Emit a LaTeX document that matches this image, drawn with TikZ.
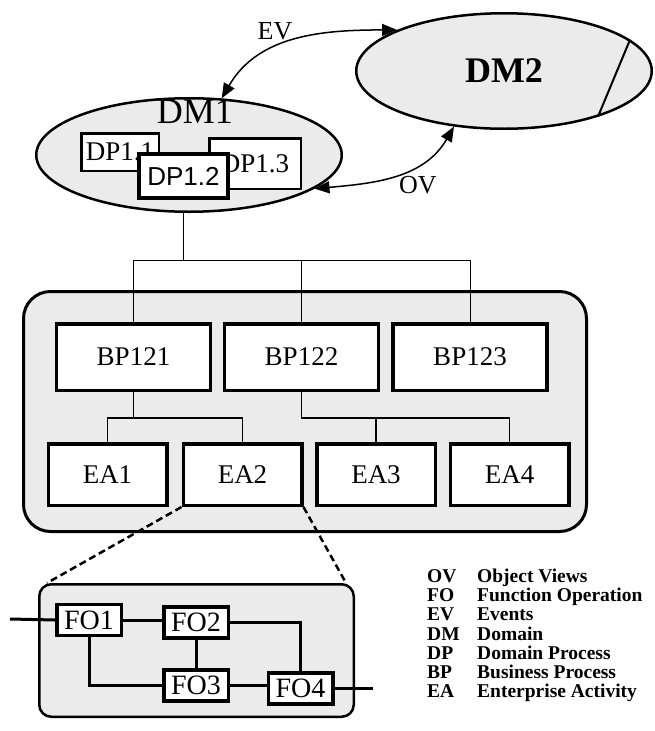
\documentclass[tikz,border=0pt]{standalone}
\usepackage{fontspec}
\setmainfont{Liberation Serif}
\newfontfamily\dpfont{Liberation Sans}
\usetikzlibrary{positioning,arrows.meta,shapes.geometric}

\begin{document}
\begin{tikzpicture}[x=1pt, y=1pt,
  dmzone/.style={ellipse, draw, line width=2.5pt, fill=black!8, inner sep=0pt},
  dpbox/.style={draw, line width=2.5pt, fill=white, inner sep=0pt, font=\fontsize{27}{30}\selectfont},
  bpbox/.style={draw, line width=3.5pt, fill=white, minimum width=154pt, minimum height=66.5pt, font=\fontsize{27}{30}\selectfont},
  eabox/.style={draw, line width=3.5pt, fill=white, minimum width=118.5pt, minimum height=61.5pt, font=\fontsize{27}{30}\selectfont},
  fobox/.style={draw, line width=3.5pt, fill=white, minimum width=64.5pt, minimum height=31pt, inner sep=0pt, font=\fontsize{28}{30}\selectfont},
  area/.style={draw, line width=3pt, fill=black!8},
  flow/.style={line width=1.5pt},
  bus/.style={line width=1pt},
  link/.style={line width=1.6pt},
  wire/.style={line width=3pt},
  zoomline/.style={line width=2.5pt, dash pattern=on 7pt off 4pt},
  >={Triangle[length=15pt,width=12pt]}]
\useasboundingbox (0,0) rectangle (655,-731);

\node[dmzone, minimum width=305.5pt, minimum height=113.5pt] (dmone) at (189,-155) {};
\node[dmzone, minimum width=295.5pt, minimum height=115.5pt, font=\bfseries\fontsize{36}{40}\selectfont] (dmtwo) at (504,-71) {DM2};
\draw[line width=2pt] (dmtwo.14) -- (dmtwo.-26);
\node[inner sep=0pt, font=\fontsize{36}{40}\selectfont] (dmonetext) at (195,-112) {DM1};
\node[dpbox, minimum width=77.5pt, minimum height=37.5pt] (dpone) at (120,-152) {DP1.1};
\node[dpbox, minimum width=91.5pt, minimum height=50.5pt] (dpthree) at (255,-163.5) {DP1.3};
\node[dpbox, line width=4pt, minimum width=89pt, minimum height=44pt, font=\dpfont\fontsize{26}{28}\selectfont] (dptwo) at (183.5,-176) {DP1.2};

\draw[flow, <->] (dmone.60) to[out=60, in=180] (dmtwo.159);
\node[inner sep=0pt, font=\fontsize{26}{28}\selectfont] (evtext) at (275,-31) {EV};
\draw[flow, <->] (dmone.-15) to[out=5, in=-120] (dmtwo.-132);
\node[inner sep=0pt, font=\fontsize{26}{28}\selectfont] (ovtext) at (418,-185) {OV};

\node[area, rounded corners=27pt, minimum width=563pt, minimum height=240pt] (bparea) at (305,-411.5) {};
\node[bpbox] (bpone) at (133.5,-357) {BP121};
\node[bpbox] (bptwo) at (301.5,-357) {BP122};
\node[bpbox] (bpthree) at (470,-357) {BP123};
\node[eabox] (eaone) at (107.5,-474.5) {EA1};
\node[eabox] (eatwo) at (242.5,-474.5) {EA2};
\node[eabox] (eathree) at (376,-474.5) {EA3};
\node[eabox] (eafour) at (509.5,-474.5) {EA4};

\coordinate (busline) at (0,-260);
\draw[bus] (dmone.265) -- (dmone.265 |- busline);
\draw[bus] (bpone.north |- busline) -- (bpthree.north |- busline);
\draw[bus] (bpone.north) -- (bpone.north |- busline);
\draw[bus] (bptwo.north) -- (bptwo.north |- busline);
\draw[bus] (bpthree.north) -- (bpthree.north |- busline);
\draw[link] (bpone.south) -- ++(0,-26);
\draw[link] (eaone.north) -- ++(0,24) -| (eatwo.north);
\draw[link] (bptwo.south) -- ++(0,-26) -| (eafour.north);
\draw[link] (eathree.north) -- ++(0,24);

\node[area, line width=2.5pt, rounded corners=12pt, minimum width=314.5pt, minimum height=132.5pt] (foarea) at (196.5,-650.5) {};
\draw[zoomline] (eatwo.south west) -- ([xshift=9pt]foarea.north west);
\draw[zoomline] (eatwo.south east) -- ([xshift=-9pt]foarea.north east);
\node[fobox] (foone) at (89,-620) {FO1};
\node[fobox] (fotwo) at (196,-622.5) {FO2};
\node[fobox] (fothree) at (196,-685.5) {FO3};
\node[fobox] (fofour) at (300.5,-688.5) {FO4};
\coordinate (foin) at (10,-619);
\coordinate (foout) at (373,-688.5);
\draw[wire] (foin) -- (foone.west);
\draw[wire] (foone.east) -- (foone.east -| fotwo.west);
\draw[wire] (foone.south) |- (fothree.west);
\draw[wire] (fotwo.south) -- (fothree.north);
\draw[wire] (fotwo.east) -| (fofour.north);
\draw[wire] (fothree.east) -- (fothree.east -| fofour.west);
\draw[wire] (fofour.east) -- (foout);

\node[anchor=north west, inner sep=0pt, font=\bfseries\fontsize{19.5}{19.2}\selectfont] (legend) at (427,-568.5) {\begin{tabular}{@{}p{50pt}@{}l@{}}
OV & Object Views\\
FO & Function Operation\\
EV & Events\\
DM & Domain\\
DP & Domain Process\\
BP & Business Process\\
EA & Enterprise Activity
\end{tabular}};
\end{tikzpicture}
\end{document}
